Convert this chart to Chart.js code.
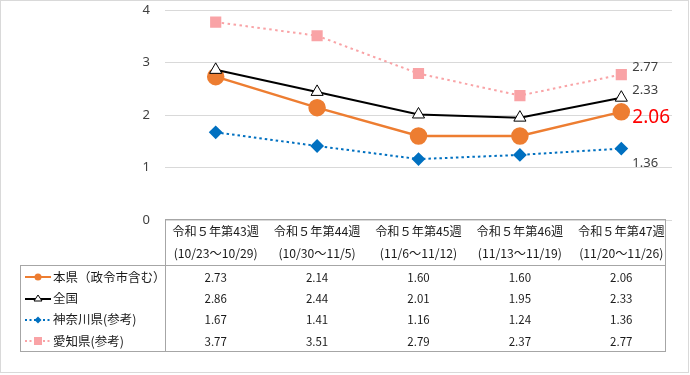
<!DOCTYPE html>
<html>
<head>
<meta charset="utf-8">
<script src="https://cdn.jsdelivr.net/npm/chart.js@4/dist/chart.umd.min.js"></script>
<style>
body { margin: 0; background: #fff; font-family: "Noto Sans CJK JP", "Noto Sans", sans-serif; }
#wrap { position: relative; width: 690px; height: 375px; overflow: hidden; }
#frame { position: absolute; left: 0; top: 0; width: 687px; height: 371px; border: 1px solid #d9d9d9; }
#c { position: absolute; left: 0; top: 0; }
.box { position: absolute; border: 1px solid #a6a6a6; box-sizing: border-box; }
.cell { position: absolute; text-align: center; color: #1a1a1a; font-size: 11.5px; white-space: nowrap; line-height: 14px; }
.head { font-size: 12.2px; }
.leg { position: absolute; color: #1a1a1a; font-size: 12.5px; white-space: nowrap; line-height: 16px; }
.leg svg { vertical-align: middle; margin-right: 2px; position: relative; top: -1px; }
</style>
</head>
<body>
<div id="wrap">
  <div id="frame"></div>
  <canvas id="c" width="690" height="375"></canvas>
  <div id="tbl"></div>
</div>
<script>
//週ラベル
const weeks = ['令和５年第43週', '令和５年第44週', '令和５年第45週', '令和５年第46週', '令和５年第47週'];
const periods = ['(10/23～10/29)', '(10/30～11/5)', '(11/6～11/12)', '(11/13～11/19)', '(11/20～11/26)'];

// 定点当たり報告数
const honken = [2.73, 2.14, 1.60, 1.60, 2.06];
const zenkoku = [2.86, 2.44, 2.01, 1.95, 2.33];
const kanagawa = [1.67, 1.41, 1.16, 1.24, 1.36];
const aichi = [3.77, 3.51, 2.79, 2.37, 2.77];

const seriesNames = ['本県（政令市含む）', '全国', '神奈川県(参考)', '愛知県(参考)'];
const yTicks = [0, 1, 2, 3, 4];

const ORANGE = '#ED7D31', BLACK = '#000000', BLUE = '#0070C0', PINK = '#F9A3A6';

// 最終週の値ラベル
const endLabels = [
    { ds: 0, color: '#ff0000', size: 19, dx: 11, dy: 6 },
    { ds: 1, color: '#404040', size: 13, dx: 11, dy: -7 },
    { ds: 2, color: '#404040', size: 13, dx: 11, dy: 15 },
    { ds: 3, color: '#404040', size: 13, dx: 11, dy: -7 }
];

const endLabelPlugin = {
    id: 'endLabels',
    afterDatasetsDraw(chart) {
        const ctx = chart.ctx;
        ctx.save();
        endLabels.forEach(l => {
            const meta = chart.getDatasetMeta(l.ds);
            const pt = meta.data[meta.data.length - 1];
            const data = chart.data.datasets[l.ds].data;
            ctx.fillStyle = l.color;
            ctx.font = l.size + 'px "Noto Sans", sans-serif';
            ctx.textAlign = 'left';
            ctx.textBaseline = 'middle';
            ctx.fillText(data[data.length - 1].toFixed(2), pt.x + l.dx, pt.y + l.dy);
        });
        ctx.restore();
    }
};

const chart = new Chart(document.getElementById('c'), {
    type: 'line',
    data: {
        labels: weeks,
        datasets: [
            {
                label: seriesNames[0], data: honken, order: 2,
                borderColor: ORANGE, borderWidth: 2.5,
                pointStyle: 'circle', pointRadius: 7.5,
                pointBackgroundColor: ORANGE, pointBorderColor: ORANGE
            },
            {
                label: seriesNames[1], data: zenkoku, order: 1,
                borderColor: BLACK, borderWidth: 2,
                pointStyle: 'triangle', pointRadius: 7, pointBorderWidth: 1,
                pointBackgroundColor: '#ffffff', pointBorderColor: BLACK
            },
            {
                label: seriesNames[2], data: kanagawa, order: 3,
                borderColor: BLUE, borderWidth: 2, borderDash: [2.5, 3],
                pointStyle: 'rectRot', pointRadius: 5.5,
                pointBackgroundColor: BLUE, pointBorderColor: BLUE
            },
            {
                label: seriesNames[3], data: aichi, order: 4,
                borderColor: PINK, borderWidth: 2, borderDash: [2.5, 3.5],
                pointStyle: 'rect', pointRadius: 6.5,
                pointBackgroundColor: PINK, pointBorderColor: PINK
            }
        ]
    },
    options: {
        responsive: false,
        animation: false,
        layout: { padding: { top: 10, right: 18, bottom: 155, left: 0 } },
        plugins: { legend: { display: false }, tooltip: { enabled: false } },
        scales: {
            x: { display: false, offset: true },
            y: {
                min: 0, max: 4,
                afterBuildTicks: s => { s.ticks = yTicks.map(v => ({ value: v })); },
                afterFit: s => { s.width = 165; s.paddingTop = 0; s.paddingBottom = 0; },
                grid: { color: '#d9d9d9', drawTicks: false },
                border: { display: false },
                ticks: { color: '#404040', padding: 15, font: { size: 13, family: '"Noto Sans", sans-serif' } }
            }
        }
    },
    plugins: [endLabelPlugin]
});

// データテーブル
function buildTable() {
    const tbl = document.getElementById('tbl');
    const area = chart.chartArea;
    const xs = chart.scales.x;
    const colW = (area.right - area.left) / weeks.length;
    const headTop = 219, bodyTop = 265, rowH = 21.3, legLeft = 20;
    let html = '';
    html += `<div class="box" style="left:${area.left}px;top:${headTop}px;width:${area.right - area.left - 6}px;height:${bodyTop - headTop + 1}px"></div>`;
    html += `<div class="box" style="left:${legLeft}px;top:${bodyTop}px;width:${area.right - legLeft - 6}px;height:${rowH * 4 + 2}px"></div>`;
    html += `<div class="box" style="left:${legLeft}px;top:${bodyTop}px;width:${area.left - legLeft + 1}px;height:${rowH * 4 + 2}px"></div>`;
    weeks.forEach((w, i) => {
        const cx = xs.getPixelForValue(i);
        html += `<div class="cell head" style="left:${cx - colW / 2}px;width:${colW}px;top:${headTop + 5}px">${w}</div>`;
        html += `<div class="cell head" style="left:${cx - colW / 2}px;width:${colW}px;top:${headTop + 27}px">${periods[i]}</div>`;
    });
    const samples = [
        `<line x1="0" y1="5" x2="26" y2="5" stroke="${ORANGE}" stroke-width="2"/><circle cx="13" cy="5" r="3.5" fill="${ORANGE}"/>`,
        `<line x1="0" y1="5" x2="26" y2="5" stroke="${BLACK}" stroke-width="2"/><polygon points="13,1 17,7 9,7" fill="#fff" stroke="${BLACK}" stroke-width="1"/>`,
        `<line x1="0" y1="5" x2="26" y2="5" stroke="${BLUE}" stroke-width="2" stroke-dasharray="2,2.5"/><polygon points="13,1.5 16.5,5 13,8.5 9.5,5" fill="${BLUE}"/>`,
        `<line x1="0" y1="5" x2="26" y2="5" stroke="${PINK}" stroke-width="2" stroke-dasharray="2,2.5"/><rect x="9" y="1" width="8" height="8" fill="${PINK}"/>`
    ];
    chart.data.datasets.forEach((ds, r) => {
        const cy = bodyTop + 1 + rowH * r + rowH / 2;
        html += `<div class="leg" style="left:${legLeft + 5}px;top:${cy - 8}px"><svg width="26" height="10">${samples[r]}</svg>${ds.label}</div>`;
        ds.data.forEach((v, i) => {
            const cx = xs.getPixelForValue(i);
            html += `<div class="cell" style="left:${cx - colW / 2}px;width:${colW}px;top:${cy - 7}px">${v.toFixed(2)}</div>`;
        });
    });
    tbl.innerHTML = html;
}
buildTable();
</script>
</body>
</html>
